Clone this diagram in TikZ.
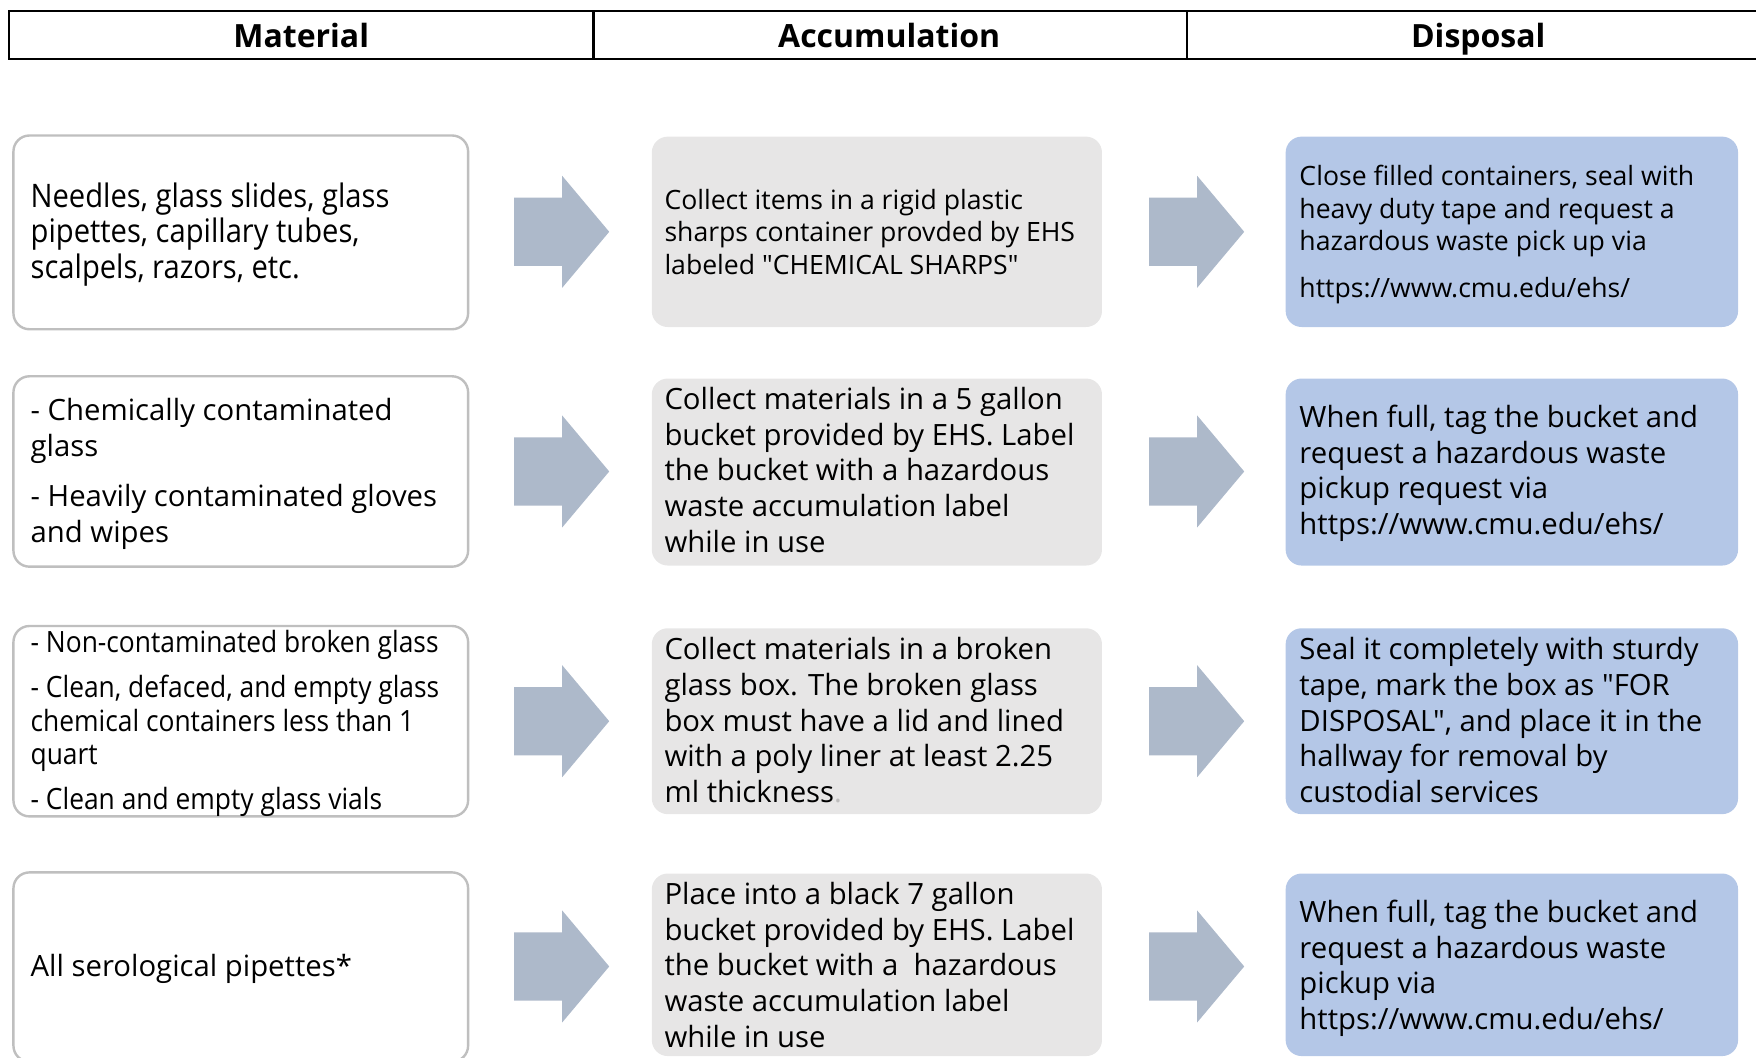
\documentclass[tikz,border=0pt]{standalone}
\usepackage{fontspec}
\setmainfont{Open Sans}[Ligatures=TeXOff]
\newfontfamily\condfont{Open Sans}[FakeStretch=0.9,Ligatures=TeXOff]
\definecolor{matgray}{HTML}{BFBFBF}
\definecolor{accgray}{HTML}{E7E6E6}
\definecolor{disblue}{HTML}{B4C7E7}
\definecolor{arrowcol}{HTML}{ADB9CA}
\tikzset{
  matbox/.style={draw=matgray, line width=1.2pt, fill=white, rounded corners=8pt},
  accbox/.style={fill=accgray, rounded corners=8pt},
  disbox/.style={fill=disblue, rounded corners=8pt},
  txtbase/.style={anchor=west, align=left, inner sep=0pt},
  txt/.style={txtbase, font=\fontsize{14.65}{17.9}\selectfont},
  txtsmall/.style={txtbase, font=\fontsize{13.3}{16.24}\selectfont},
  txtcondbig/.style={txtbase, font=\condfont\fontsize{16.2}{17.9}\selectfont},
  txtcond/.style={txtbase, font=\condfont\fontsize{14.65}{16.8}\selectfont},
  headtxt/.style={font=\fontsize{16}{19}\selectfont\bfseries, inner sep=0pt, anchor=base},
  headcell/.style={draw=black, line width=1.1pt},
  blockarrow/.style={fill=arrowcol}
}
\newcommand\blkarrow[3]{%
  \fill[blockarrow] (#2,#3) ++(0,-30.5) -- ++(43,0) -- ++(0,-19.5) -- ++(42,50)
    coordinate (#1) -- ++(-42,50) -- ++(0,-19.5) -- ++(-43,0) -- cycle;}
\begin{document}
\begin{tikzpicture}[x=0.56pt,y=-0.56pt]
\useasboundingbox (0,0) rectangle (1568,944);
% header
\draw[headcell] (8,10) rectangle (530,53);
\draw[headcell] (530,10) rectangle (1060,53);
\draw[headcell] (1060,10) rectangle (1580,53);
\node[headtxt] (hmat) at (269,42) {Material};
\node[headtxt] (hacc) at (794,42) {Accumulation};
\node[headtxt] (hdis) at (1320,42) {Disposal};

% row boxes
\foreach \t/\b in {121/294, 336/506, 559/729, 779/948} {
  \draw[matbox] (12,\t) rectangle (418,\b);
}
\foreach \t/\b in {122/292, 338/505, 561/727, 780/943} {
  \fill[accbox] (582,\t) rectangle (984,\b);
  \fill[disbox] (1148,\t) rectangle (1552,\b);
}

% arrows
\blkarrow{a1}{459}{207}
\blkarrow{b1}{1026}{207}
\blkarrow{a2}{459}{421}
\blkarrow{b2}{1026}{421}
\blkarrow{a3}{459}{644}
\blkarrow{b3}{1026}{644}
\blkarrow{a4}{459}{863}
\blkarrow{b4}{1026}{863}

% row 1
\node[txtcondbig] (m1) at (27,209.3) {Needles, glass slides, glass\\pipettes, capillary tubes,\\scalpels, razors, etc.};
\node[txtsmall] (c1) at (593,207) {Collect items in a rigid plastic\\sharps container provded by EHS\\labeled "CHEMICAL SHARPS"};
\node[txtsmall] (d1) at (1160,209.6) {Close filled containers, seal with\\heavy duty tape and request a\\hazardous waste pick up via\\[7pt]https://www.cmu.edu/ehs/};

% row 2
\node[txt] (m2) at (27,423.1) {- Chemically contaminated\\glass\\[7.3pt]- Heavily contaminated gloves\\and wipes};
\node[txt] (c2) at (593,419.6) {Collect materials in a 5 gallon\\bucket provided by EHS. Label\\the bucket with a hazardous\\waste accumulation label\\while in use};
\node[txt] (d2) at (1160,422.6) {When full, tag the bucket and\\request a hazardous waste\\pickup request via\\https://www.cmu.edu/ehs/};

% row 3
\node[txtcond] (m3) at (27,646) {- Non-contaminated broken glass\\[5.6pt]- Clean, defaced, and empty glass\\chemical containers less than 1\\quart\\[5.6pt]- Clean and empty glass vials};
\node[txt] (c3) at (593,643.1) {Collect materials in a broken\\glass box. The broken glass\\box must have a lid and lined\\with a poly liner at least 2.25\\ml thickness\textcolor{accgray!60!gray}{.}};
\node[txt] (d3) at (1160,643.1) {Seal it completely with sturdy\\tape, mark the box as "FOR\\DISPOSAL", and place it in the\\hallway for removal by\\custodial services};

% row 4
\node[txt] (m4) at (27,865.6) {All serological pipettes*};
\node[txt] (c4) at (593,861.6) {Place into a black 7 gallon\\bucket provided by EHS. Label\\the bucket with a \ hazardous\\waste accumulation label\\while in use};
\node[txt] (d4) at (1160,864.6) {When full, tag the bucket and\\request a hazardous waste\\pickup via\\https://www.cmu.edu/ehs/};
\end{tikzpicture}
\end{document}
